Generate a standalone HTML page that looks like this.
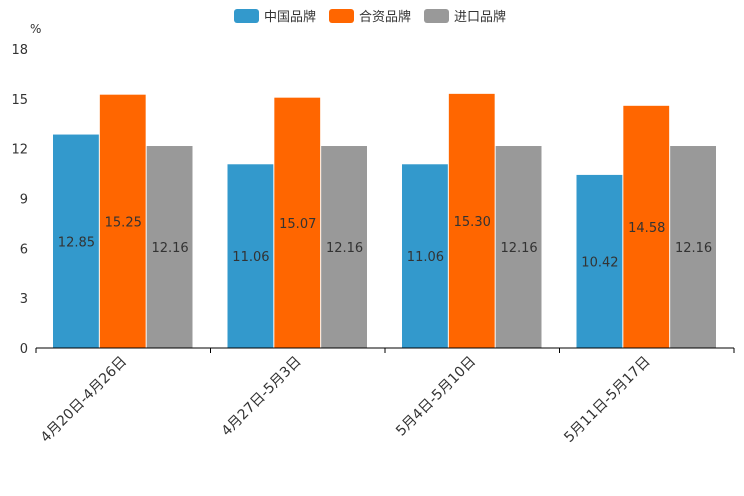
<!DOCTYPE html>
<html><head><meta charset="utf-8"><style>
body{margin:0;background:#fff;}
svg{display:block;font-family:"DejaVu Sans","Noto Sans CJK SC",sans-serif;}
</style></head><body>
<svg id="c" width="744" height="496"></svg>
<script>
const categories=["4月20日-4月26日","4月27日-5月3日","5月4日-5月10日","5月11日-5月17日"];
const seriesNames=["中国品牌","合资品牌","进口品牌"];
const domestic=[12.85,11.06,11.06,10.42];
const joint=[15.25,15.07,15.30,14.58];
const imported=[12.16,12.16,12.16,12.16];
const yTicks=[0,3,6,9,12,15,18];
const colors=["#3399cc","#ff6600","#999999"];
const series=[domestic,joint,imported];
const NS="http://www.w3.org/2000/svg";
const svg=document.getElementById('c');
const x0=36,x1=734,yBase=348,yTop=49,yMax=18;
const y=v=>yBase-(v/yMax)*(yBase-yTop);
const bw=(x1-x0)/categories.length;
function mk(t,a,p){const e=document.createElementNS(NS,t);for(const k in a)e.setAttribute(k,a[k]);(p||svg).appendChild(e);return e;}
yTicks.forEach(v=>{const t=mk('text',{x:28,y:y(v)+5,'text-anchor':'end','font-size':13,fill:'#333'});t.textContent=v;

});
const u=mk('text',{x:30,y:33,'font-size':12,fill:'#333'});u.textContent='%';


const pad=17,barW=(bw-2*pad)/3;
categories.forEach((c,i)=>{
 series.forEach((s,j)=>{
  const bx=x0+i*bw+pad+j*barW;
  const r=mk('rect',{x:bx,y:y(s[i]),width:barW-1,height:yBase-y(s[i]),fill:colors[j]});
  
  
  const t=mk('text',{x:bx+barW/2,y:(y(s[i])+yBase)/2+5,'text-anchor':'middle','font-size':13,fill:'#333'});
  t.textContent=s[i].toFixed(2);
  
  
 });
 const cx=x0+i*bw+bw/2;
 const t=mk('text',{x:cx+4,y:yBase+14,'text-anchor':'end','font-size':14,fill:'#333',transform:`rotate(-45 ${cx+4} ${yBase+14})`});
 t.textContent=c;
 
 
});
const ax=mk('line',{x1:x0,y1:yBase,x2:x1,y2:yBase,stroke:'#000','stroke-width':1});


for(let i=0;i<=categories.length;i++){const l=mk('line',{x1:x0+i*bw,y1:yBase,x2:x0+i*bw,y2:yBase+5,stroke:'#000'});

}
const lx=[234,329,424];
seriesNames.forEach((n,j)=>{
 const g=mk('g',{});
 
 
 mk('rect',{x:lx[j],y:9,width:25,height:14,rx:3,fill:colors[j]},g);
 const t=mk('text',{x:lx[j]+30,y:21,'font-size':13,fill:'#333'},g);t.textContent=n;
});
</script>
</body></html>
